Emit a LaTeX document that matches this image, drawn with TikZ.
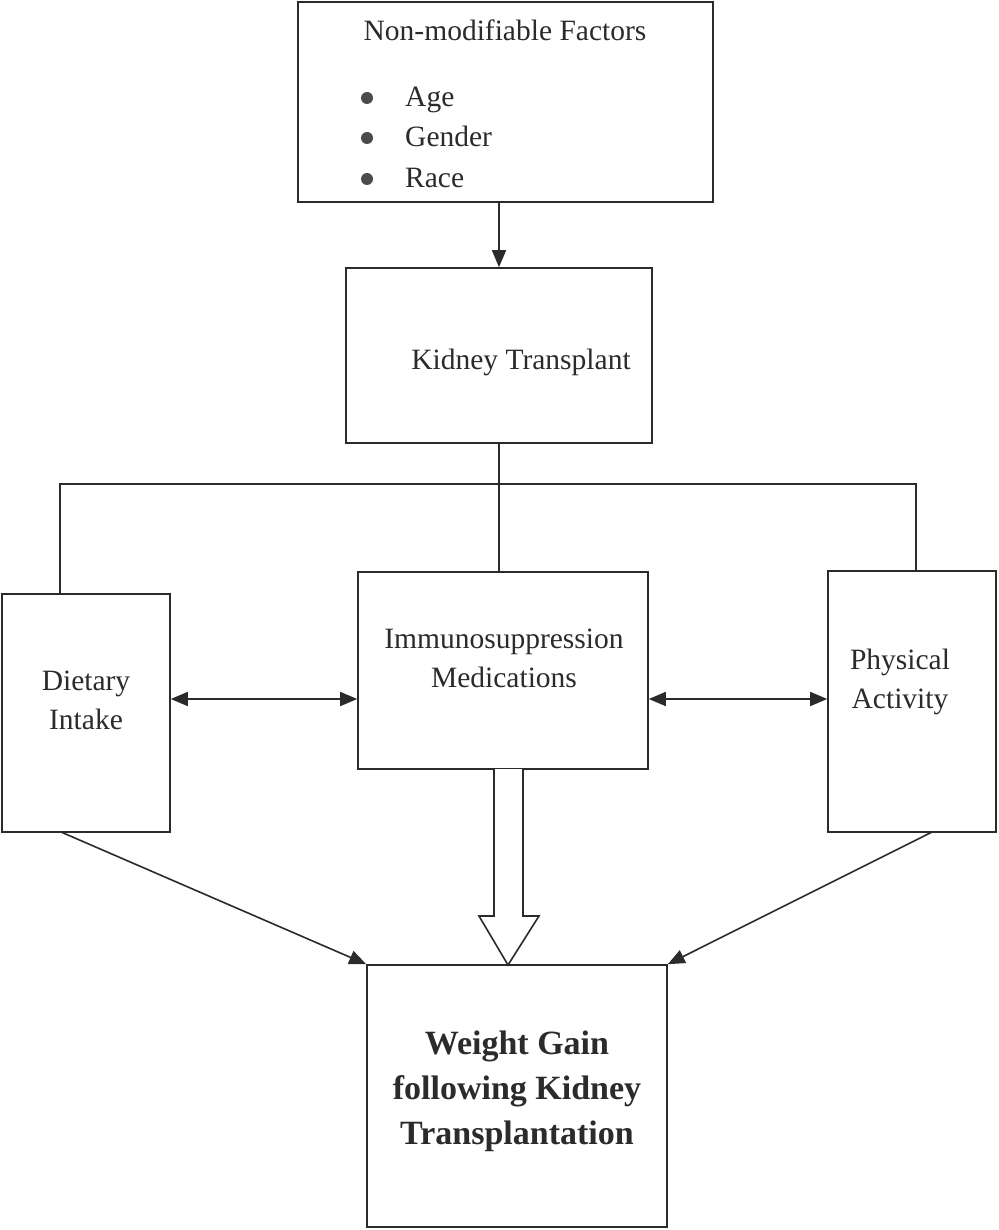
\documentclass[tikz,border=0pt]{standalone}
\usepackage{fontspec}
\setmainfont{Liberation Serif}
\usetikzlibrary{arrows.meta,calc}
\definecolor{ink}{HTML}{2B2B2B}
\begin{document}
\begin{tikzpicture}[x=1pt,y=-1pt]
\tikzset{
  box/.style={draw=ink, line width=1.6pt, inner sep=0pt, rectangle},
  txt/.style={text=ink, font=\fontsize{29.5}{39}\selectfont, align=center, inner sep=0pt},
  btxt/.style={text=ink, font=\fontsize{34}{45}\selectfont\bfseries, align=center, inner sep=0pt},
  conn/.style={draw=ink, line width=1.6pt},
  arr/.style={conn, -{Triangle[length=17pt,width=14pt]}},
  dbl/.style={conn, {Triangle[length=17pt,width=14pt]}-{Triangle[length=17pt,width=14pt]}},
  bul/.style={circle, fill=ink!85, inner sep=0pt, minimum size=12pt}
}
\useasboundingbox (0,0) rectangle (998,1230);
\fill[white] (0,0) rectangle (998,1230);

% boxes
\node[box, minimum width=415pt, minimum height=200pt] (top) at (505.5,102) {};
\node[box, minimum width=306pt, minimum height=175pt] (kid) at (499,355.5) {};
\node[box, minimum width=168pt, minimum height=238pt] (diet) at (86,713) {};
\node[box, minimum width=290pt, minimum height=197pt] (imm) at (503,670.5) {};
\node[box, minimum width=168pt, minimum height=261pt] (phys) at (912,701.5) {};
\node[box, minimum width=300pt, minimum height=262pt] (wg) at (517,1096) {};

% texts
\node[txt, anchor=mid] (tTitle) at (505,38) {Non-modifiable Factors};
\node[bul] (b1) at (367,98) {};
\node[bul] (b2) at (367,138) {};
\node[bul] (b3) at (367,179) {};
\node[txt, anchor=mid west] (tAge) at (405,104) {Age};
\node[txt, anchor=mid west] (tGender) at (405,144) {Gender};
\node[txt, anchor=mid west] (tRace) at (405,185) {Race};
\node[txt, anchor=mid] (tKid) at (521,367) {Kidney Transplant};
\node[txt] (tDiet) at (86,700) {Dietary\\Intake};
\node[txt] (tImm) at (504,658) {Immunosuppression\\Medications};
\node[txt] (tPhys) at (900,682) {Physical\\Activity};
\node[btxt] (tWg) at (517,1091) {Weight Gain\\following Kidney\\Transplantation};

% connectors
\draw[arr] (kid.north |- top.south) -- (kid.north);
\coordinate (hL) at (60,484);
\coordinate (hR) at (916,484);
\draw[conn] (kid.south) -- (kid.south |- imm.north);
\draw[conn] (hL |- diet.north) -- (hL) -- (hR) -- (hR |- phys.north);

\coordinate (yd) at (0,699);
\draw[dbl] (diet.east |- yd) -- (imm.west |- yd);
\draw[dbl] (imm.east |- yd) -- (phys.west |- yd);

\coordinate (dOut) at (61,832);
\coordinate (pOut) at (932,832);
\draw[arr] (dOut) -- (wg.north west);
\draw[arr] (pOut) -- (wg.north east);

% hollow block arrow
\draw[draw=ink, line width=1.6pt, fill=white, line join=miter]
  (494,769) -- (494,916) -- (479,916) -- (508,965) -- (539,916) -- (523,916) -- (523,769);
\end{tikzpicture}
\end{document}
